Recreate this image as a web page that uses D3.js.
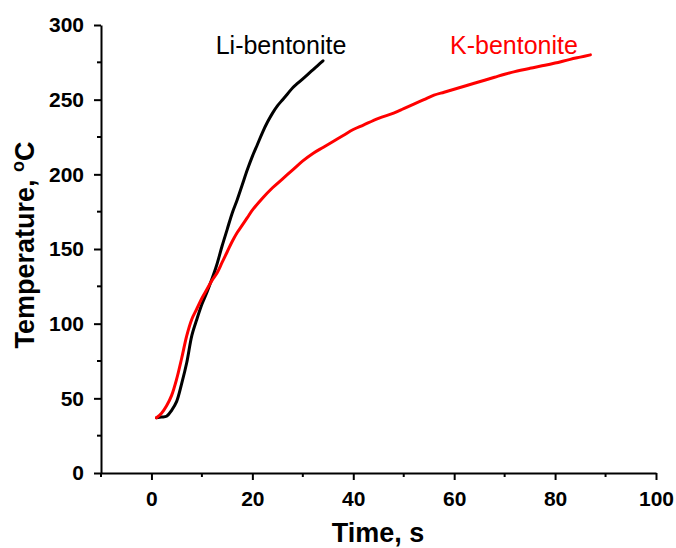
<!DOCTYPE html>
<html><head><meta charset="utf-8">
<script src="https://cdn.jsdelivr.net/npm/d3@7/dist/d3.min.js"></script>
<style>body{margin:0;background:#fff}</style>
</head><body>
<svg id="c" width="676" height="548"></svg>
<script>
const liTime = [1,2,3,4,5,6,7,8,9,10,11,12,13,14,15,16,17,18,19,20,21,22,23,24,25,26,27,28,29,30,31,32,33,34];
const liTemp = [37,37.5,38,42,48,60,74,92,103,113,121,130,140,152,163,174,183,193,203,212,220,228,235,241,246,250,254,258,261,264,267,270,273,276];
const kTime = [1,2,3,4,5,6,7,8,9,10,11,12,13,14,15,16,17,18,19,20,22,24,26,28,30,32,34,36,38,40,42,45,48,50,52,54,56,58,60,62,65,68,70,72,75,78,80,83,85,87];
const kTemp = [37,40,45,52,63,77,92,103,110,117,123,129,134,141,148,155,161,166,171,176,184,191,197,203,209,214,218,222,226,230,233,237.5,241,244,247,250,253,255,257,259,262,265,267,268.8,271,273,274.5,277,278.5,280];
const xTicks = [0,20,40,60,80,100];
const yTicks = [0,50,100,150,200,250,300];
const seriesNames = ["Li-bentonite","K-bentonite"];

const svg = d3.select("#c");
const x = d3.scaleLinear().domain([-10,100]).range([101,656]);
const y = d3.scaleLinear().domain([0,300]).range([473,25]);
const font = "'Liberation Sans', Arial, sans-serif";

const xMinor = d3.range(-10,101,10).filter(v=>!xTicks.includes(v));
const yMinor = d3.range(25,300,50);

const gx = svg.append("g").attr("transform","translate(0,473)");
gx.call(d3.axisBottom(x).tickValues(xTicks).tickSize(7).tickSizeOuter(0).tickPadding(11).tickFormat(d3.format("d")));
gx.append("g").selectAll("line").data(xMinor).join("line")
  .attr("x1",d=>x(d)).attr("x2",d=>x(d)).attr("y1",0).attr("y2",4).attr("stroke","#000").attr("stroke-width",2);
const gy = svg.append("g").attr("transform","translate(101,0)");
gy.call(d3.axisLeft(y).tickValues(yTicks).tickSize(7).tickSizeOuter(0).tickPadding(10).tickFormat(d3.format("d")));
gy.append("g").selectAll("line").data(yMinor).join("line")
  .attr("y1",d=>y(d)).attr("y2",d=>y(d)).attr("x1",0).attr("x2",-4).attr("stroke","#000").attr("stroke-width",2);
[gx,gy].forEach(g=>{
  g.selectAll("path.domain").attr("stroke","#000").attr("stroke-width",2);
  g.selectAll(".tick line").attr("stroke","#000").attr("stroke-width",2);
  g.selectAll(".tick text").attr("font-family",font).attr("font-weight","bold").attr("font-size","21px").attr("fill","#000");
});

const line = d3.line().x(d=>x(d[0])).y(d=>y(d[1])).curve(d3.curveCatmullRom);
svg.append("path").datum(liTime.map((t,i)=>[t,liTemp[i]])).attr("d",line)
  .attr("fill","none").attr("stroke","#000").attr("stroke-width",3).attr("stroke-linecap","round");
svg.append("path").datum(kTime.map((t,i)=>[t,kTemp[i]])).attr("d",line)
  .attr("fill","none").attr("stroke","#ff0000").attr("stroke-width",3).attr("stroke-linecap","round");

svg.append("text").attr("x",281).attr("y",54).attr("text-anchor","middle")
  .attr("font-family",font).attr("font-size","25px").attr("fill","#000").text(seriesNames[0]);
svg.append("text").attr("x",514).attr("y",54).attr("text-anchor","middle")
  .attr("font-family",font).attr("font-size","25px").attr("fill","#ff0000").text(seriesNames[1]);

svg.append("text").attr("x",378).attr("y",542).attr("text-anchor","middle")
  .attr("font-family",font).attr("font-weight","bold").attr("font-size","27px").attr("fill","#000").text("Time, s");
const yt = svg.append("text").attr("transform","translate(34,245) rotate(-90)").attr("text-anchor","middle")
  .attr("font-family",font).attr("font-weight","bold").attr("font-size","27px").attr("fill","#000");
yt.append("tspan").text("Temperature, ");
yt.append("tspan").attr("font-size","18px").attr("dy","-10").text("o");
yt.append("tspan").attr("dy","10").text("C");
</script>
</body></html>
